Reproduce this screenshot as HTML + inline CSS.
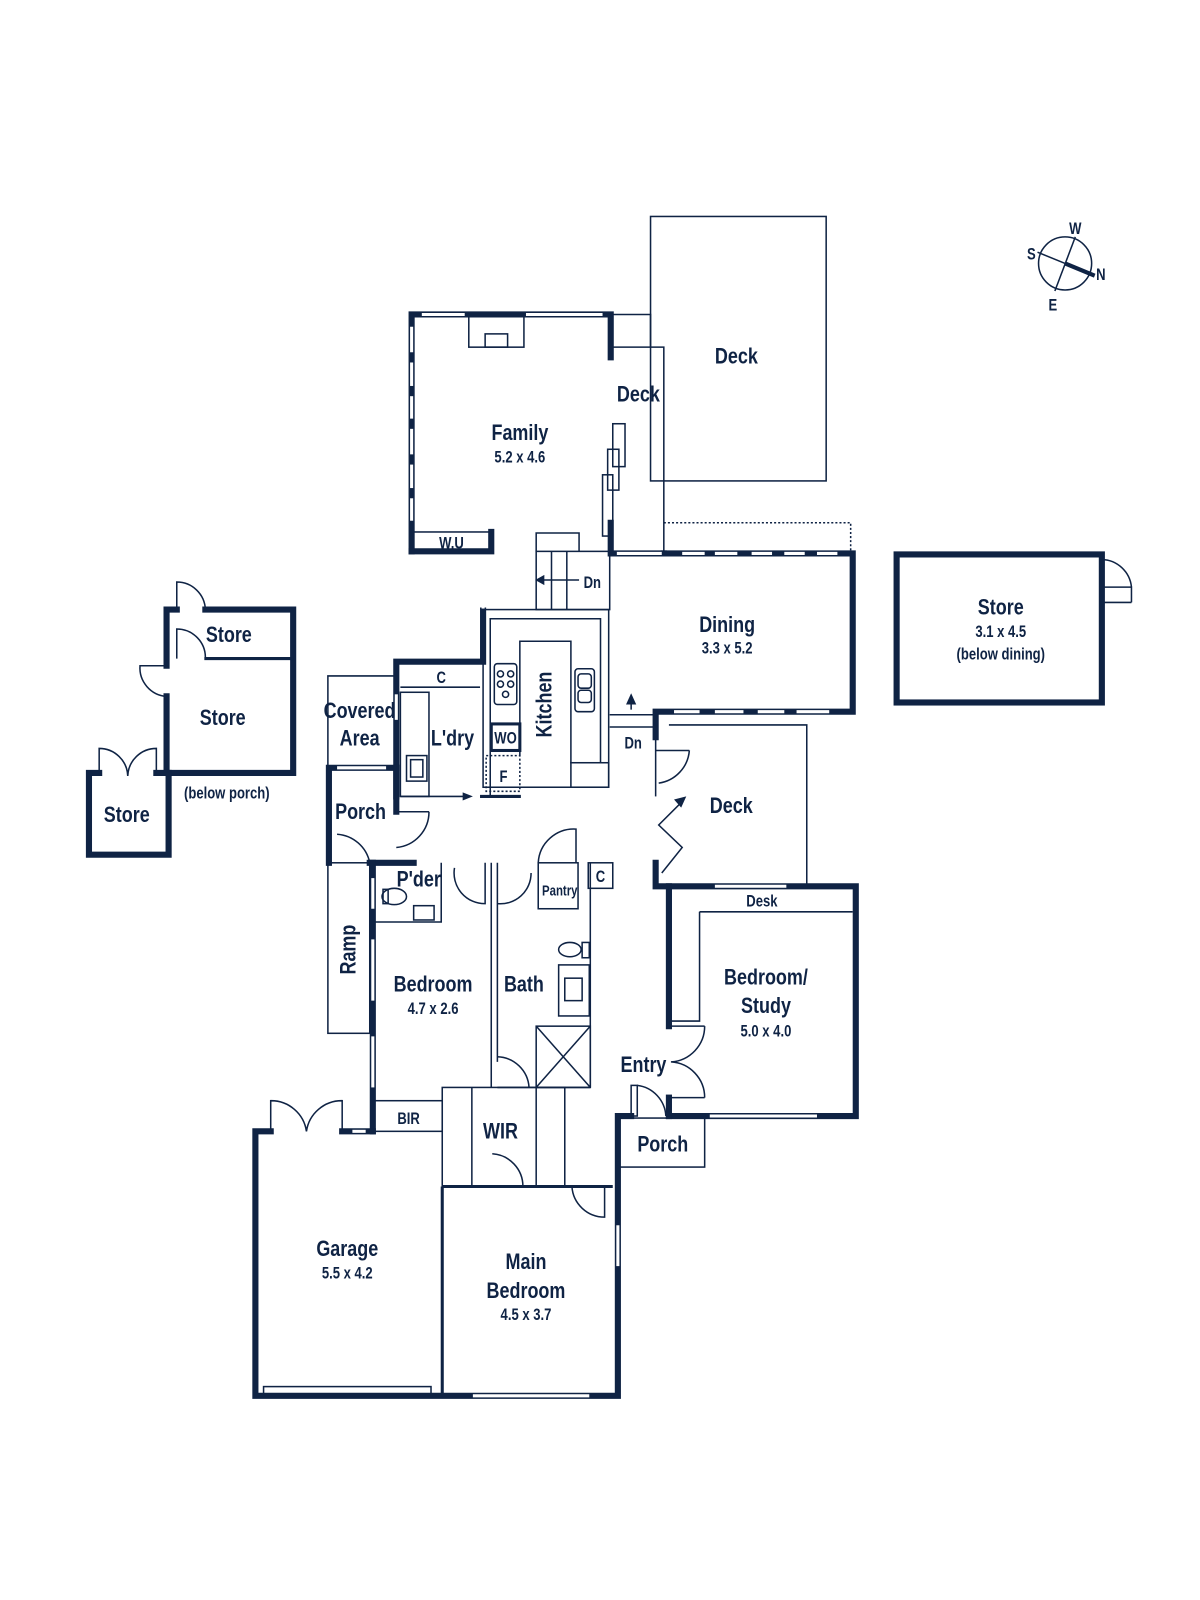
<!DOCTYPE html>
<html><head><meta charset="utf-8"><style>
html,body{margin:0;padding:0;background:#fff;}
svg{display:block}
text{font-family:"Liberation Sans Narrow","Liberation Sans",sans-serif;fill:#0f2344;text-anchor:middle;font-weight:bold;transform-box:fill-box;transform-origin:center;transform:scaleX(0.8)}
.t{font-size:22px}
.s{font-size:16px}
</style></head><body>
<svg width="1200" height="1600" viewBox="0 0 1175 1567" xmlns="http://www.w3.org/2000/svg">
<g fill="none" stroke="#0f2344" stroke-width="1.5">
<circle cx="1043" cy="258" r="26"/>
<line x1="1016" y1="247" x2="1043" y2="258"/><line x1="1053" y1="232" x2="1033" y2="285"/>
<line x1="1043" y1="258" x2="1072" y2="270" stroke-width="4"/>
<rect x="637" y="212" width="172" height="259"/>
<polyline points="598,308 637,308 637,340"/>
<polyline points="598,340 650,340 650,540"/>
<rect x="459" y="310" width="54" height="30"/><rect x="475" y="327" width="22" height="13"/>
<rect x="600" y="415" width="12" height="42"/><rect x="595" y="440" width="11" height="40"/><rect x="590" y="465" width="10" height="60"/>
<rect x="403" y="521" width="78" height="19"/>
<polyline points="650,512 833,512 833,540" stroke-dasharray="2,2"/>
<polyline points="525,540 525,522 567,522 567,540"/>
<rect x="525" y="540" width="72" height="57"/>
<line x1="540" y1="540" x2="540" y2="597"/><line x1="555" y1="540" x2="555" y2="597"/><line x1="525" y1="568" x2="567" y2="568"/>
<rect x="473" y="597" width="123" height="174"/>
<polyline points="480,780 480,606 588,606 588,747 559,747 559,628 509,628 509,740"/>
<rect x="559" y="747" width="37" height="24"/>
<rect x="484" y="650" width="22" height="40" rx="3"/>
<circle cx="490" cy="660" r="3"/><circle cx="500" cy="660" r="3"/><circle cx="490" cy="670" r="3"/><circle cx="500" cy="670" r="3"/><circle cx="495" cy="680" r="3"/>
<rect x="563" y="655" width="19" height="42" rx="3"/><rect x="566" y="660" width="13" height="14" rx="3"/><rect x="566" y="676" width="13" height="12" rx="3"/>
<rect x="481" y="709" width="28" height="26" stroke-width="3"/>
<rect x="476" y="740" width="33" height="35" stroke-dasharray="2,2"/>
<line x1="597" y1="700" x2="642" y2="700"/><line x1="597" y1="712" x2="642" y2="712"/>
<line x1="618" y1="695" x2="618" y2="685"/>
<line x1="392" y1="673" x2="470" y2="673"/>
<rect x="392" y="678" width="28" height="102"/>
<rect x="398" y="740" width="20" height="25"/><rect x="402" y="744" width="12" height="17"/>
<line x1="392" y1="780" x2="455" y2="780"/><line x1="470" y1="780" x2="510" y2="780" stroke-width="3"/>
<polyline points="321,752 321,662 388,662"/>
<rect x="321" y="845" width="41" height="167"/>
<path d="M388 795 H420 M420 795 A35 35 0 0 1 388 830"/>
<path d="M330 817 A35 35 0 0 1 362 845"/>
<polyline points="365,903 432,903 432,845"/>
<ellipse cx="386" cy="878" rx="12" ry="8"/><rect x="375" y="871" width="5" height="14"/><rect x="405" y="887" width="20" height="14"/>
<path d="M445 850 A30 30 0 0 0 475 885 V845"/>
<line x1="481" y1="845" x2="481" y2="1065"/><line x1="487" y1="845" x2="487" y2="1040"/>
<path d="M487 885 A30 30 0 0 0 520 855"/>
<rect x="527" y="845" width="39" height="45"/>
<path d="M527 845 A35 35 0 0 1 564 812 V845"/>
<rect x="576" y="845" width="24" height="25"/>
<line x1="578" y1="845" x2="578" y2="1065"/>
<ellipse cx="558" cy="930" rx="11" ry="7"/><rect x="570" y="923" width="7" height="15"/>
<rect x="547" y="945" width="30" height="50"/><rect x="553" y="958" width="17" height="22"/>
<rect x="525" y="1005" width="53" height="60"/><line x1="525" y1="1005" x2="578" y2="1065"/><line x1="578" y1="1005" x2="525" y2="1065"/>
<line x1="487" y1="1065" x2="578" y2="1065"/>
<path d="M487 1035 A32 32 0 0 1 518 1065"/>
<rect x="365" y="1078" width="68" height="30"/>
<rect x="433" y="1065" width="120" height="97"/>
<line x1="462" y1="1065" x2="462" y2="1162"/><line x1="525" y1="1065" x2="525" y2="1162"/>
<path d="M482 1130 A32 32 0 0 1 512 1162"/>
<path d="M560 1162 A32 32 0 0 0 592 1192 V1162"/>
<line x1="433" y1="1162" x2="433" y2="1367" stroke-width="3"/>
<line x1="433" y1="1162" x2="600" y2="1162" stroke-width="3"/>
<path d="M265 1108 V1078 A35 35 0 0 1 300 1108 A35 35 0 0 1 335 1078 V1108"/>
<rect x="258" y="1358" width="164" height="8"/>
<rect x="605" y="1095" width="85" height="48"/>
<rect x="618" y="1063" width="6" height="30"/>
<path d="M624 1063 A32 32 0 0 1 652 1093"/>
<path d="M655 1005 H690 M690 1005 A35 35 0 0 1 657 1040 A35 35 0 0 1 690 1075 M655 1075 H690"/>
<polyline points="642,722 642,780"/>
<polyline points="655,710 790,710 790,868"/>
<polyline points="648,855 668,830 645,808 668,785"/>
<path d="M642 735 H675 M675 735 A35 35 0 0 1 645 767"/>
<line x1="685" y1="893" x2="835" y2="893"/>
<polyline points="685,893 685,1000 657,1000"/>
<line x1="657" y1="868" x2="657" y2="1000"/>
<path d="M1079 575 H1108 V590 M1079 590 H1108 M1108 575 A30 30 0 0 0 1079 548"/>
<path d="M173 597 V570 A28 28 0 0 1 201 597"/>
<path d="M173 645 V616 A28 28 0 0 1 201 645"/>
<path d="M163 652 H137 A28 28 0 0 0 163 682"/>
<path d="M97 757 V733 A28 28 0 0 1 125 760 A28 28 0 0 1 153 733 V757"/>
</g>
<g fill="none" stroke="#0f2344" stroke-width="6" stroke-linecap="square">
<polyline points="403,540 403,308 598,308 598,350"/>
<polyline points="403,540 481,540 481,521"/>
<polyline points="473,598 473,648 388,648 388,780"/>
<polyline points="598,512 598,542 650,542"/>
<polyline points="650,542 835,542 835,697 642,697 642,722"/>
<polyline points="322,845 322,752 388,752"/>
<line x1="388" y1="752" x2="388" y2="795"/>
<polyline points="362,845 405,845"/>
<line x1="365" y1="845" x2="365" y2="1108"/>
<polyline points="335,1108 365,1108"/>
<polyline points="265,1108 250,1108 250,1367 605,1367 605,1093 618,1093"/>
<polyline points="655,1093 838,1093 838,868 655,868 655,1005"/>
<polyline points="642,845 642,868 655,868"/>
<polyline points="655,1075 655,1093"/>
<rect x="878" y="543" width="201" height="145"/>
<polyline points="201,597 287,597 287,757 163,757 163,682"/>
<polyline points="163,652 163,597 173,597"/>
<polyline points="153,757 165,757 165,837 87,837 87,757 97,757"/>
</g>
<line x1="200" y1="645" x2="287" y2="645" stroke="#0f2344" stroke-width="3"/>
<g stroke="#fff" stroke-width="3">
<line x1="413" y1="308" x2="455" y2="308"/><line x1="515" y1="308" x2="590" y2="308"/>
<line x1="403" y1="320" x2="403" y2="345"/><line x1="403" y1="355" x2="403" y2="378"/><line x1="403" y1="388" x2="403" y2="410"/><line x1="403" y1="420" x2="403" y2="445"/><line x1="403" y1="455" x2="403" y2="478"/><line x1="403" y1="488" x2="403" y2="510"/>
<line x1="604" y1="542" x2="648" y2="542"/>
<line x1="668" y1="542" x2="690" y2="542"/><line x1="700" y1="542" x2="722" y2="542"/><line x1="736" y1="542" x2="756" y2="542"/><line x1="768" y1="542" x2="788" y2="542"/><line x1="800" y1="542" x2="820" y2="542"/>
<line x1="660" y1="697" x2="685" y2="697"/><line x1="700" y1="697" x2="728" y2="697"/><line x1="742" y1="697" x2="768" y2="697"/><line x1="780" y1="697" x2="812" y2="697"/>
<line x1="473" y1="545" x2="473" y2="596"/>
<line x1="388" y1="680" x2="388" y2="705"/>
<line x1="330" y1="752" x2="378" y2="752"/>
<line x1="365" y1="860" x2="365" y2="890"/><line x1="365" y1="920" x2="365" y2="980"/><line x1="365" y1="1015" x2="365" y2="1065"/>
<line x1="345" y1="1108" x2="358" y2="1108"/>
<line x1="463" y1="1367" x2="577" y2="1367"/>
<line x1="605" y1="1200" x2="605" y2="1240"/>
<line x1="700" y1="868" x2="770" y2="868"/>
<line x1="695" y1="1093" x2="800" y2="1093"/>
</g>
<g fill="#0f2344">
<polygon points="524,568 533,563 533,573"/>
<polygon points="618,679 613,690 623,690"/>
<polygon points="463,780 453,776 453,784"/>
<polygon points="672,780 660,783 667,791"/>
</g>
<text x="1053" y="229" class="s">W</text><text x="1010" y="254" class="s">S</text><text x="1078" y="274" class="s">N</text><text x="1031" y="304" class="s">E</text>
<text x="721" y="356" class="t">Deck</text>
<text x="625" y="393" class="t">Deck</text>
<text x="509" y="431" class="t">Family</text><text x="509" y="453" class="s">5.2 x 4.6</text>
<text x="442" y="537" class="s">W.U</text>
<text x="580" y="576" class="s">Dn</text>
<text x="712" y="619" class="t">Dining</text><text x="712" y="640" class="s">3.3 x 5.2</text>
<text x="980" y="602" class="t">Store</text><text x="980" y="624" class="s">3.1 x 4.5</text><text x="980" y="646" class="s">(below dining)</text>
<text x="224" y="629" class="t">Store</text><text x="218" y="710" class="t">Store</text><text x="222" y="782" class="s">(below porch)</text>
<text x="124" y="805" class="t">Store</text>
<text x="432" y="669" class="s">C</text>
<text x="352" y="703" class="t">Covered</text><text x="352" y="730" class="t">Area</text>
<text x="443" y="730" class="t">L'dry</text>
<text x="495" y="728" class="s">WO</text><text x="493" y="766" class="s">F</text>
<g transform="translate(540,690) rotate(-90)"><text x="0" y="0" class="t">Kitchen</text></g>
<text x="620" y="733" class="s">Dn</text>
<text x="716" y="796" class="t">Deck</text>
<text x="353" y="802" class="t">Porch</text>
<text x="410" y="868" class="t">P'der</text>
<text x="548" y="877" class="s" style="font-size:14px">Pantry</text>
<text x="588" y="864" class="s">C</text>
<text x="746" y="888" class="s">Desk</text>
<g transform="translate(348,930) rotate(-90)"><text x="0" y="0" class="t">Ramp</text></g>
<text x="424" y="971" class="t">Bedroom</text><text x="424" y="993" class="s">4.7 x 2.6</text>
<text x="513" y="971" class="t">Bath</text>
<text x="750" y="964" class="t">Bedroom/</text><text x="750" y="992" class="t">Study</text><text x="750" y="1015" class="s">5.0 x 4.0</text>
<text x="630" y="1050" class="t">Entry</text>
<text x="400" y="1101" class="s">BIR</text>
<text x="490" y="1115" class="t">WIR</text>
<text x="649" y="1128" class="t">Porch</text>
<text x="340" y="1230" class="t">Garage</text><text x="340" y="1252" class="s">5.5 x 4.2</text>
<text x="515" y="1243" class="t">Main</text><text x="515" y="1271" class="t">Bedroom</text><text x="515" y="1293" class="s">4.5 x 3.7</text>
</svg>
</body></html>
